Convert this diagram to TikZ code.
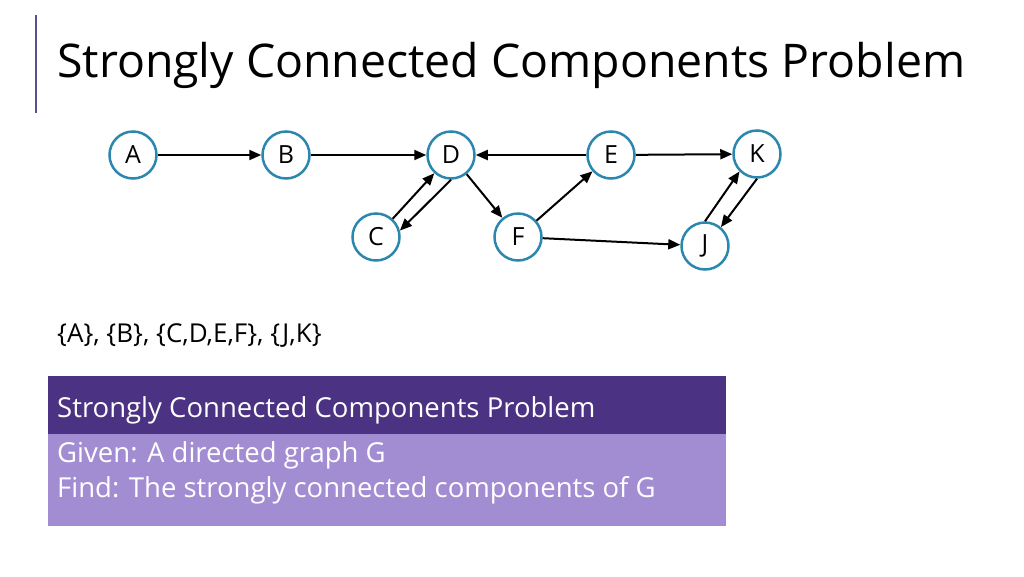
\documentclass[tikz,border=0pt]{standalone}
\usepackage{fontspec}
\setmainfont{Open Sans}
\usetikzlibrary{arrows.meta, positioning}
\definecolor{ring}{HTML}{2B87AD}
\definecolor{rule}{HTML}{5A4F8C}
\definecolor{headfill}{HTML}{4B3282}
\definecolor{bodyfill}{HTML}{A28DD2}
\tikzstyle{vertex} = [circle, draw=ring, line width=2.5pt, fill=white, minimum size=47pt, inner sep=0pt, font=\fontsize{25}{25}\selectfont]
\tikzstyle{edge} = [-{Triangle[length=12pt, width=10pt]}, line width=2pt]
\tikzstyle{textline} = [anchor=base west, inner sep=0pt]
\tikzstyle{boxtext} = [textline, text=white, font=\fontsize{27.5}{30}\selectfont]

\begin{document}
\begin{tikzpicture}[x=1pt, y=-1pt]
    \useasboundingbox (0,0) rectangle (1024,576);

    % Title.
    \draw [rule, line width=2pt] (36,15) -- (36,113);
    \node (title) [textline, font=\fontsize{46.4}{50}\selectfont] at (57,77) {Strongly Connected Components Problem};

    % Graph.
    \node (A) [vertex] at (133,155) {A};
    \node (B) [vertex] at (286,155) {B};
    \node (D) [vertex] at (451,155) {D};
    \node (E) [vertex] at (611,155) {E};
    \node (K) [vertex] at (757,154) {K};
    \node (C) [vertex] at (376,237) {C};
    \node (F) [vertex] at (518,237) {F};
    \node (J) [vertex] at (705,246) {J};

    % Arrows.
    \draw [edge] (A) -- (B);
    \draw [edge] (B) -- (D);
    \draw [edge] (E) -- (D);
    \draw [edge] (E) -- (K);
    \draw [edge] (C) -- (D);
    \draw [edge] (D.south) -- (C.15);
    \draw [edge] (D) -- (F);
    \draw [edge] (F) -- (E);
    \draw [edge] (F) -- (J);
    \draw [edge] (J.north) -- (K.225);
    \draw [edge] (K.south) -- (J.50);

    \node (answer) [textline, font=\fontsize{26}{28}\selectfont] at (57,342) {\{A\}, \{B\}, \{C,D,E,F\}, \{J,K\}};

    % Problem box.
    \fill [headfill] (48,376) rectangle (726,434);
    \fill [bodyfill] (48,434) rectangle (726,526);
    \node (head) [boxtext] at (57,417) {Strongly Connected Components Problem};
    \node (given) [boxtext] at (57,462) {Given: A directed graph G};
    \node (find) [boxtext] at (57,497) {Find: The strongly connected components of G};
\end{tikzpicture}
\end{document}
